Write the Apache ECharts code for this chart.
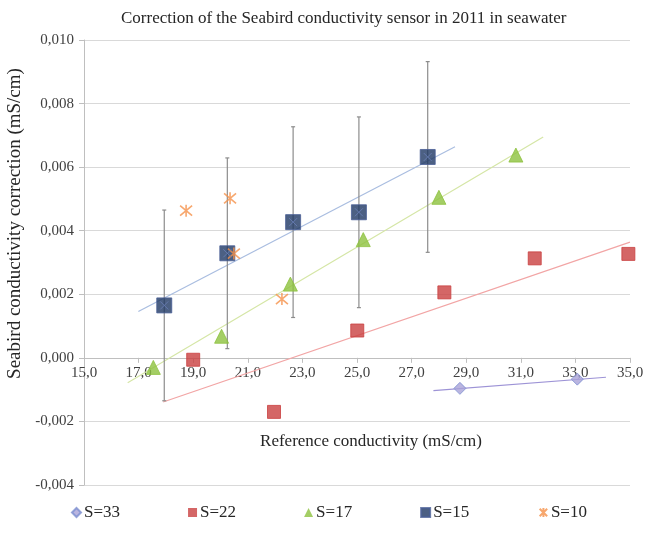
<!DOCTYPE html>
<html>
<head>
<meta charset="utf-8">
<script src="https://cdn.jsdelivr.net/npm/echarts@6/dist/echarts.min.js"></script>
<style>html,body{margin:0;padding:0;background:#fff}#c{width:645px;height:537px}</style>
</head>
<body>
<div id="c"></div>
<script>
// ---- data ----
const titleText = 'Correction of the Seabird conductivity sensor in 2011 in seawater';
const xAxisTitle = 'Reference conductivity (mS/cm)';
const yAxisTitle = 'Seabird conductivity correction (mS/cm)';
const seriesNames = ['S=33', 'S=22', 'S=17', 'S=15', 'S=10'];

const s33X = [28.77, 33.07];
const s33Y = [-0.00096, -0.00067];
const s22X = [19.0, 21.96, 25.01, 28.2, 31.51, 34.94];
const s22Y = [-0.00006, -0.0017, 0.00086, 0.00206, 0.00313, 0.00327];
const s17X = [17.54, 20.04, 22.56, 25.23, 28.0, 30.82];
const s17Y = [-0.00030, 0.00068, 0.00232, 0.00372, 0.00505, 0.00638];
const s15X = [17.94, 20.25, 22.66, 25.07, 27.59];
const s15Y = [0.00165, 0.00329, 0.00427, 0.00458, 0.00632];
const s15Err = [0.003, 0.003, 0.003, 0.003, 0.003];
const s10X = [18.74, 20.35, 20.49, 22.25];
const s10Y = [0.00463, 0.00502, 0.00328, 0.00185];

// trend lines (start, end)
const trend33 = [[27.8, -0.00103], [34.12, -0.00061]];
const trend22 = [[17.9, -0.00139], [35.0, 0.00364]];
const trend17 = [[16.6, -0.00078], [31.82, 0.00695]];
const trend15 = [[16.99, 0.00146], [28.59, 0.00664]];

const xTicks = {min: 15, max: 35, interval: 2};
const yTicks = {min: -0.004, max: 0.010, interval: 0.002};

// ---- build ----
const zip = (xs, ys) => xs.map((x, i) => [x, ys[i]]);
const serif = 'Liberation Serif, Times New Roman, serif';
const asterisk = 'path://M0,0L10,10M10,0L0,10M5,-1L5,11';
const xMark = 'path://M0,0L10,10M10,0L0,10';
const gridBox = {left: 84, right: 15, top: 40, bottom: 52};

const chart = echarts.init(document.getElementById('c'));
const trendSeries = (data, color) => ({
  type: 'line', data, showSymbol: false, symbol: 'none', silent: true,
  lineStyle: {color, width: 1.2}, z: 1
});

chart.setOption({
  animation: false,
  backgroundColor: '#fff',
  title: {
    text: titleText, left: 116, top: 5,
    textStyle: {fontFamily: serif, fontSize: 17, fontWeight: 'normal', color: '#262626'}
  },
  grid: Object.assign({containLabel: false, outerBoundsMode: 'none'}, gridBox),
  legend: {
    bottom: 11, left: 66, itemGap: 68, itemWidth: 9, itemHeight: 9,
    textStyle: {fontFamily: serif, fontSize: 17, color: '#262626', padding: [0, 0, 0, -2]},
    data: [
      {name: seriesNames[0], icon: 'diamond'},
      {name: seriesNames[1], icon: 'rect'},
      {name: seriesNames[2], icon: 'triangle'},
      {name: seriesNames[3], icon: 'rect'},
      {name: seriesNames[4], icon: asterisk}
    ]
  },
  xAxis: {
    type: 'value', min: xTicks.min, max: xTicks.max, interval: xTicks.interval,
    name: xAxisTitle, nameLocation: 'middle', nameGap: 75,
    nameTextStyle: {fontFamily: serif, fontSize: 17, color: '#262626', padding: [0, 0, 0, 28]},
    axisLine: {onZero: false, lineStyle: {color: '#bfbfbf'}},
    axisTick: {show: true, inside: false, length: 5, lineStyle: {color: '#bfbfbf'}},
    axisLabel: {fontFamily: serif, fontSize: 15, color: '#404040', margin: 8,
      formatter: v => v.toFixed(1).replace('.', ',')},
    splitLine: {show: false}
  },
  yAxis: {
    type: 'value', min: yTicks.min, max: yTicks.max, interval: yTicks.interval,
    name: yAxisTitle, nameLocation: 'middle', nameGap: 56, nameRotate: 90,
    nameTextStyle: {fontFamily: serif, fontSize: 19, color: '#262626', padding: [0, 0, 0, 78]},
    axisLine: {show: true, lineStyle: {color: '#bfbfbf'}},
    axisTick: {show: true, length: 5, lineStyle: {color: '#bfbfbf'}},
    axisLabel: {fontFamily: serif, fontSize: 15, color: '#404040', margin: 10,
      formatter: v => v.toFixed(3).replace('.', ',')},
    splitLine: {show: true, lineStyle: {color: '#d9d9d9'}}
  },
  series: [
    trendSeries(trend33, '#9d93d6'),
    trendSeries(trend22, '#f2a5a5'),
    trendSeries(trend17, '#d5e6a6'),
    trendSeries(trend15, '#a9bde0'),
    {
      type: 'custom', silent: true, z: 2,
      data: s15X.map((x, i) => [x, s15Y[i], s15Err[i]]),
      renderItem: (params, api) => {
        const x = api.value(0), y = api.value(1), e = api.value(2);
        const t = api.coord([x, y + e]), b = api.coord([x, y - e]);
        const st = {stroke: '#8c8c8c', lineWidth: 1.2};
        return {type: 'group', children: [
          {type: 'line', shape: {x1: t[0], y1: t[1], x2: b[0], y2: b[1]}, style: st},
          {type: 'line', shape: {x1: t[0] - 2, y1: t[1], x2: t[0] + 2, y2: t[1]}, style: st},
          {type: 'line', shape: {x1: b[0] - 2, y1: b[1], x2: b[0] + 2, y2: b[1]}, style: st}
        ]};
      }
    },
    {name: seriesNames[0], type: 'scatter', data: zip(s33X, s33Y), symbol: 'diamond', symbolSize: 12, z: 3,
      itemStyle: {color: '#a9a2d8', borderColor: '#7c8fd0', borderWidth: 1}},
    {name: seriesNames[1], type: 'scatter', data: zip(s22X, s22Y), symbol: 'rect', symbolSize: 13, z: 3,
      itemStyle: {color: '#c94040', borderColor: '#c94040'}},
    {name: seriesNames[2], type: 'scatter', data: zip(s17X, s17Y), symbol: 'triangle', symbolSize: 14, z: 3,
      itemStyle: {color: '#8dc23e', borderColor: '#8dc23e'}},
    {name: seriesNames[3], type: 'scatter', data: zip(s15X, s15Y), symbol: 'rect', symbolSize: 15, z: 3,
      itemStyle: {color: '#1f3864', borderColor: '#4a5f96', borderWidth: 1}},
    {type: 'scatter', data: zip(s15X, s15Y), symbol: xMark, symbolSize: 8, z: 4, silent: true,
      itemStyle: {color: 'none', borderColor: '#6a7fb8', borderWidth: 1}},
    {name: seriesNames[4], type: 'scatter', data: zip(s10X, s10Y), symbol: asterisk, symbolSize: 12, z: 3,
      itemStyle: {color: 'none', borderColor: '#f5914a', borderWidth: 1.6}}
  ]
});

// move the x axis (line, ticks, labels, name) to y = 0
const zeroY = chart.convertToPixel({yAxisIndex: 0}, 0);
const bottomY = chart.getHeight() - gridBox.bottom;
chart.setOption({xAxis: {offset: zeroY - bottomY}});
</script>
</body>
</html>
